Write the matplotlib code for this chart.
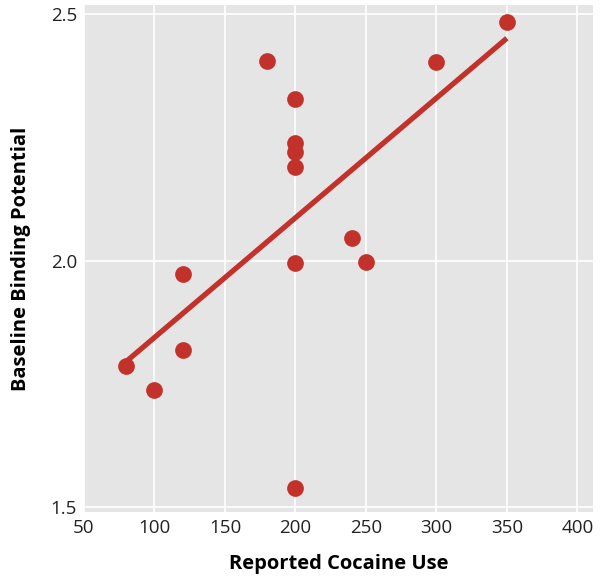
import matplotlib
matplotlib.use("Agg")
import matplotlib.pyplot as plt
import numpy as np

# reported cocaine use vs baseline binding potential
cocaine_use = [80, 100, 120, 120, 180, 200, 200, 200, 200, 200, 200, 240, 250, 300, 350]
binding_potential = [1.787, 1.738, 1.972, 1.819, 2.404, 2.327, 2.238, 2.220, 2.189,
                     1.996, 1.539, 2.045, 1.998, 2.402, 2.484]
x_ticks = [50, 100, 150, 200, 250, 300, 350, 400]
y_ticks = [1.5, 2.0, 2.5]

red = '#c3312b'

plt.rcParams['font.family'] = ['Open Sans', 'DejaVu Sans']

fig = plt.figure(figsize=(6, 5.8), dpi=100)
ax = fig.add_axes([0.14, 0.117, 0.848, 0.874])
ax.set_facecolor('#e5e5e5')
ax.set_axisbelow(True)
ax.grid(color='white', linewidth=1.2)
for s in ax.spines.values():
    s.set_visible(False)

ax.scatter(cocaine_use, binding_potential, s=145, color=red, zorder=3, linewidths=0)

slope, intercept = np.polyfit(cocaine_use, binding_potential, 1)
xs = np.array([min(cocaine_use), max(cocaine_use)])
ax.plot(xs, slope * xs + intercept, color=red, linewidth=3.8, zorder=2,
        solid_capstyle='butt')

ax.set_xlim(50, 411)
ax.set_ylim(1.49, 2.518)
ax.set_xticks(x_ticks)
ax.set_yticks(y_ticks)
ax.set_yticklabels(['1.5', '2.0', '2.5'])
ax.tick_params(length=0, labelsize=13.5, pad=5, colors='#222222')

ax.set_xlabel('Reported Cocaine Use', fontsize=14.5, fontweight='bold', labelpad=12)
ax.set_ylabel('Baseline Binding Potential', fontsize=14.5, fontweight='bold', labelpad=14)

fig.savefig('out.png', dpi=100)
